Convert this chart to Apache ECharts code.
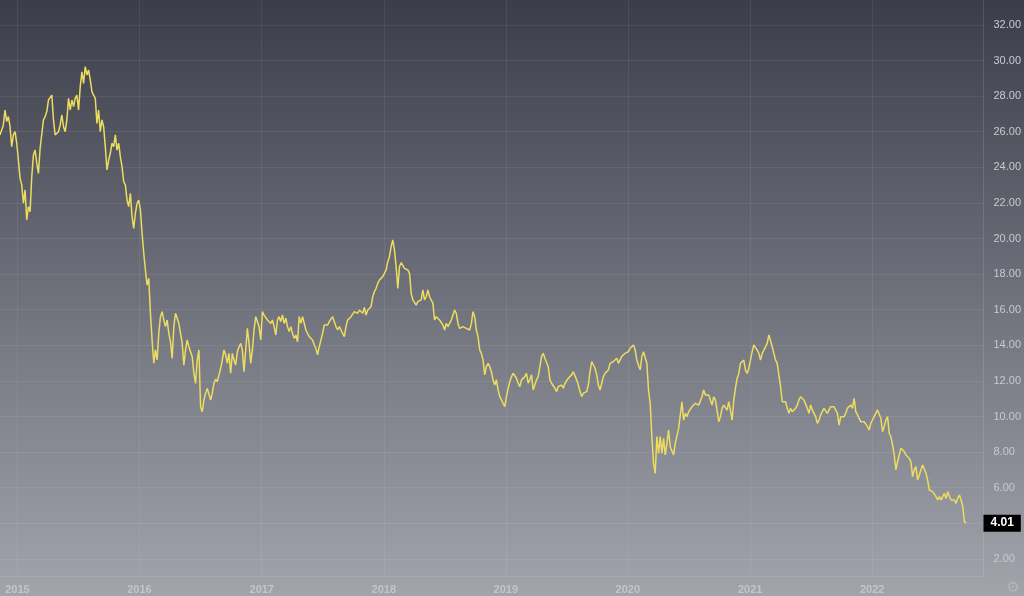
<!DOCTYPE html>
<html><head><meta charset="utf-8">
<script src="https://cdn.jsdelivr.net/npm/echarts@6/dist/echarts.min.js"></script>
<style>html,body{margin:0;padding:0;width:1024px;height:596px;overflow:hidden;background:#6d7079}#c{width:1024px;height:596px}</style>
</head><body><div id="c"></div><script>
// time layout of the series (one reading every 5 days)
const startDate = '2014-11-10';
const stepDays = 5;
const axisStart = '2014-11-10';
const axisEnd = '2022-11-30';
const yearTicks = ['2015-01-01','2016-01-01','2017-01-01','2018-01-01','2019-01-01','2020-01-01','2021-01-01','2022-01-01'];
const priceTicks = [2,4,6,8,10,12,14,16,18,20,22,24,26,28,30,32];
const priceMin = 1.04;
const priceMax = 33.4;
const prices = [
25.82,26.10,26.38,27.22,26.57,26.85,26.28,25.16,25.82,26.00,
25.35,24.41,23.38,23.01,21.98,22.73,21.04,21.79,21.51,23.48,
24.69,24.97,24.22,23.66,25.07,24.97,26.66,26.85,27.13,27.78,
27.69,28.06,26.66,25.82,25.82,26.00,26.38,26.94,26.28,26.00,
26.66,27.88,27.22,27.78,27.41,27.88,28.06,27.22,28.53,29.37,
28.72,29.66,29.19,29.47,28.91,28.25,28.06,27.88,26.47,27.22,
26.00,26.66,26.28,25.16,23.85,24.41,24.79,25.35,25.16,25.82,
24.97,25.35,24.60,24.04,23.19,23.01,22.16,21.79,22.54,21.23,
20.57,21.42,21.98,22.16,21.60,20.29,19.17,18.23,17.39,17.76,
15.80,14.30,12.99,13.74,13.18,14.67,
15.61,15.89,15.42,15.05,15.42,14.67,14.20,13.27,15.05,15.80,
15.52,15.23,14.67,14.11,12.89,13.74,14.30,13.92,13.64,13.36,
12.43,11.86,13.17,13.74,10.55,10.27,10.93,11.30,11.58,11.49,
10.93,11.30,11.86,12.09,11.96,12.33,12.71,13.17,13.74,13.46,
12.99,13.55,12.43,13.55,13.17,12.89,13.64,13.92,14.11,13.74,
12.52,13.74,14.95,14.11,12.99,13.74,14.86,15.61,15.61,15.05,
14.30,15.89,15.70,15.80,15.42,15.42,15.23,15.42,15.05,14.58,
15.42,15.61,15.33,15.70,15.23,15.52,15.05,14.77,15.05,14.67,
14.39,14.58,14.20,15.61,15.23,15.61,15.70,14.86,14.67,14.49,
14.39,14.30,14.02,13.83,13.46,13.92,
13.83,14.67,15.14,15.23,15.14,15.33,15.23,15.61,15.52,15.05,
14.86,15.05,14.86,14.67,14.49,15.05,15.42,15.52,15.61,15.70,
15.89,15.98,15.80,15.98,16.08,15.80,16.13,15.70,15.98,15.89,
16.17,16.73,17.01,17.20,17.48,17.67,17.76,17.86,18.04,18.23,
18.70,18.98,19.54,19.92,19.35,18.42,17.20,18.42,18.64,18.61,
18.32,18.23,18.23,18.04,16.92,16.55,16.45,16.26,16.45,16.36,
16.55,17.11,16.55,16.73,17.11,16.73,16.83,16.36,15.42,15.61,
15.61,15.42,15.33,15.14,14.86,15.23,15.05,15.23,15.42,15.70,
15.98,15.80,15.23,14.95,14.86,15.05,15.14,14.95,15.05,14.86,
15.23,15.89,15.61,14.86,14.49,13.74,
13.55,13.18,12.34,12.80,12.99,12.80,12.52,12.06,11.77,12.06,
11.49,11.12,11.03,10.74,10.56,11.12,11.59,11.96,12.24,12.43,
12.34,12.15,11.87,11.68,12.06,11.96,12.24,12.43,11.87,12.06,
12.34,11.49,11.59,12.06,12.24,12.34,13.37,13.55,13.27,13.27,
12.80,12.06,11.87,11.77,11.59,11.40,11.68,11.59,11.77,11.59,
11.87,11.96,12.15,12.06,12.34,12.52,12.43,12.06,11.77,11.40,
11.12,11.31,11.31,11.40,11.77,12.52,13.09,12.99,12.71,12.34,
11.77,11.49,11.87,12.24,12.43,12.52,12.62,12.99,12.90,13.09,
12.99,13.27,12.99,13.18,13.37,13.27,13.55,13.46,13.65,13.83,
13.93,14.02,13.74,13.18,12.90,12.62,
13.36,13.64,13.73,12.99,11.49,10.74,8.87,7.37,6.81,8.87,
7.93,8.87,7.93,8.77,7.84,8.49,9.24,8.30,8.40,7.84,
8.49,8.40,9.33,10.08,10.83,9.80,10.18,9.99,10.27,10.18,
10.55,10.46,10.74,10.64,10.64,10.55,11.11,11.49,11.21,11.11,
11.21,10.93,10.64,11.11,10.93,10.36,9.71,9.99,10.46,10.64,
10.55,10.36,10.83,10.36,9.80,10.93,11.58,12.14,12.42,12.99,
13.08,13.17,12.61,12.42,12.70,12.80,13.64,14.02,13.92,13.73,
13.55,13.17,13.55,13.73,13.83,14.11,14.58,14.67,13.92,13.83,
13.17,12.99,13.08,11.67,10.83,10.93,10.83,10.46,10.18,10.46,
10.27,10.18,10.46,10.64,10.93,11.11,
11.02,10.93,10.83,10.46,10.18,10.65,10.37,10.18,9.99,9.62,
9.80,10.09,10.18,10.46,10.37,10.18,10.37,10.55,10.65,10.55,
10.55,10.18,9.52,9.99,10.09,9.99,10.18,10.46,10.55,10.65,
10.46,11.02,10.27,10.09,9.90,9.71,9.62,9.71,9.62,9.43,
9.24,9.62,9.71,9.99,10.18,10.37,10.46,9.90,9.15,9.43,
9.80,9.99,9.06,8.87,8.40,7.84,7.00,7.46,7.84,8.21,
8.12,8.03,7.84,7.74,7.65,7.46,6.62,7.00,7.18,6.43,
6.71,7.00,7.28,7.18,6.81,6.43,5.87,5.87,5.78,5.68,
5.50,5.31,5.50,5.31,5.50,5.68,5.40,5.78,5.50,5.31,
5.40,5.31,5.12,5.40,5.59,5.31,4.94,4.09,4.01
];

const DAY = 86400000;
const t0 = Date.parse(startDate + 'T00:00:00Z');
const seriesData = prices.map((v, i) => [t0 + i * stepDays * DAY, v]);
const yearTickValues = yearTicks.map(d => Date.parse(d + 'T00:00:00Z'));
const lastPrice = prices[prices.length - 1];

const chart = echarts.init(document.getElementById('c'), null, {renderer: 'canvas'});
const gridColor = 'rgba(255,255,255,0.07)';
chart.setOption({
  animation: false,
  backgroundColor: {
    type: 'linear', x: 0, y: 0, x2: 0, y2: 1,
    colorStops: [{offset: 0, color: '#3b3e4a'}, {offset: 1, color: '#a2a4ac'}]
  },
  grid: {left: 0, right: 39, top: 0, bottom: 20, containLabel: false},
  xAxis: {
    type: 'value',
    min: Date.parse(axisStart + 'T00:00:00Z'),
    max: Date.parse(axisEnd + 'T00:00:00Z'),
    axisLine: {show: true, lineStyle: {color: 'rgba(255,255,255,0.12)', width: 1}},
    axisTick: {show: false, customValues: yearTickValues},
    axisLabel: {
      customValues: yearTickValues,
      formatter: v => String(new Date(v).getUTCFullYear()),
      color: '#c3c5cc', fontSize: 11, fontWeight: 'bold',
      fontFamily: 'Liberation Sans, Arial, sans-serif', margin: 8
    },
    splitLine: {show: true, lineStyle: {color: gridColor, width: 1}}
  },
  yAxis: {
    type: 'value',
    position: 'right',
    min: priceMin,
    max: priceMax,
    axisLine: {show: true, lineStyle: {color: 'rgba(255,255,255,0.12)', width: 1}},
    axisTick: {show: false, customValues: priceTicks},
    axisLabel: {
      customValues: priceTicks,
      formatter: v => v.toFixed(2),
      color: '#c9cace', fontSize: 11,
      fontFamily: 'Liberation Sans, Arial, sans-serif', margin: 10
    },
    splitLine: {show: true, lineStyle: {color: gridColor, width: 1}}
  },
  series: [{
    type: 'line',
    data: seriesData,
    showSymbol: false,
    symbol: 'none',
    lineStyle: {color: '#ecdc60', width: 1.5},
    markLine: {
      silent: true,
      symbol: ['none', 'none'],
      lineStyle: {color: 'rgba(0,0,0,0)', width: 0},
      label: {
        show: true, position: 'end', distance: 0,
        formatter: p => Number(p.value).toFixed(2),
        backgroundColor: '#000', color: '#fff', fontWeight: 'bold', fontSize: 12,
        fontFamily: 'Liberation Sans, Arial, sans-serif',
        padding: [3, 7, 2, 7]
      },
      data: [{yAxis: lastPrice}]
    }
  }],
  graphic: [{
    type: 'text', right: 4, bottom: 0,
    style: {text: '\u2699', fill: 'rgba(255,255,255,0.22)', fontSize: 15, fontFamily: 'DejaVu Sans'}
  }]
});
</script></body></html>
